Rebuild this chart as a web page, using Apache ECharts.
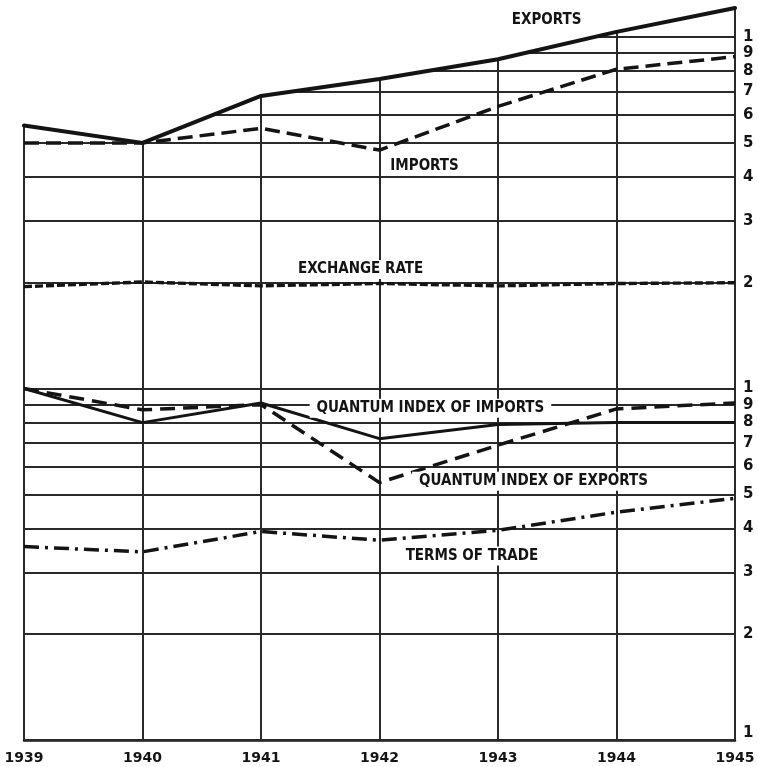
<!DOCTYPE html>
<html>
<head>
<meta charset="utf-8">
<script src="https://cdn.jsdelivr.net/npm/echarts@6/dist/echarts.min.js"></script>
<style>
  html, body { margin: 0; padding: 0; background: #fff; }
  #chart { width: 758px; height: 767px; }
</style>
</head>
<body>
<div id="chart"></div>
<script>
// Years along the bottom axis
const years = [1939, 1940, 1941, 1942, 1943, 1944, 1945];

// Series values (ratio scale, two log cycles 0.1 - 1 - 10)
const exportsVal   = [5.6, 5.0, 6.8, 7.6, 8.65, 10.35, 12.1];
const importsVal   = [5.0, 5.0, 5.5, 4.77, 6.35, 8.1, 8.8];
const exchangeRate = [1.95, 2.01, 1.96, 1.99, 1.96, 1.99, 2.0];
const quantumImp   = [1.0, 0.80, 0.91, 0.72, 0.79, 0.80, 0.80];
const quantumExp   = [1.0, 0.87, 0.90, 0.54, 0.69, 0.875, 0.91];
const termsOfTrade = [0.355, 0.343, 0.392, 0.37, 0.395, 0.445, 0.487];

// Ruled lines of the log grid and their right-hand digits
const gridValues = [0.1, 0.2, 0.3, 0.4, 0.5, 0.6, 0.7, 0.8, 0.9, 1,
                    2, 3, 4, 5, 6, 7, 8, 9, 10];
const gridDigit = v => String(v < 1 ? Math.round(v * 10) : (v >= 10 ? Math.round(v / 10) : v));

// Captions placed beside the curves: [text, year, value]
const captions = [
  ['EXPORTS', 1943.41, 11.15],
  ['IMPORTS', 1942.38, 4.29],
  ['EXCHANGE RATE', 1941.84, 2.18],
  ['QUANTUM INDEX OF IMPORTS', 1942.43, 0.879],
  ['QUANTUM INDEX OF EXPORTS', 1943.30, 0.545],
  ['TERMS OF TRADE', 1942.78, 0.334]
];

const INK = '#141414';
const RULE = '#2a2a2a';
const LETTER = "'DejaVu Sans Condensed', 'Liberation Sans Narrow', 'DejaVu Sans', sans-serif";
const BASE = 0.1;

const pairs = vals => years.map((y, i) => [y, vals[i]]);

// horizontal rules, each labelled with its digit at the right edge
const horizontalRules = gridValues.map(v => (v === BASE
  ? { yAxis: v, label: { offset: [0, -7] } }
  : { yAxis: v }));

// year rules run from the base line up to the exports curve
const yearRules = years.map((y, i) => [
  { coord: [y, BASE], label: { show: false } },
  { coord: [y, exportsVal[i]] }
]);

const chart = echarts.init(document.getElementById('chart'), null, { renderer: 'canvas' });

chart.setOption({
  animation: false,
  backgroundColor: '#ffffff',
  grid: { left: 24, right: 23, top: 8, bottom: 27 },
  xAxis: {
    type: 'value',
    min: 1939,
    max: 1945,
    interval: 1,
    axisLine: { show: true, onZero: false, lineStyle: { color: INK, width: 2.5 } },
    axisTick: { show: false },
    splitLine: { show: false },
    axisLabel: {
      margin: 11,
      color: INK,
      fontFamily: "'DejaVu Sans', sans-serif",
      fontWeight: 'bold',
      fontSize: 14,
      formatter: v => String(v)
    }
  },
  yAxis: {
    type: 'log',
    logBase: 10,
    min: BASE,
    max: 12.1,
    axisLine: { show: false },
    axisTick: { show: false },
    axisLabel: { show: false },
    splitLine: { show: false }
  },
  series: [
    {
      // grid rules
      type: 'line',
      data: [],
      z: 1,
      markLine: {
        z: 1,
        silent: true,
        symbol: ['none', 'none'],
        lineStyle: { color: RULE, width: 2, type: 'solid' },
        label: {
          show: true,
          position: 'end',
          distance: 8,
          color: INK,
          fontFamily: "'DejaVu Sans', sans-serif",
          fontWeight: 'bold',
          fontSize: 15,
          formatter: p => gridDigit(p.value)
        },
        data: horizontalRules.concat(yearRules)
      }
    },
    {
      // exports; the white fill above it blanks the rules over the curve
      name: 'Exports',
      type: 'line',
      z: 2,
      data: pairs(exportsVal),
      symbol: 'none',
      lineStyle: { color: INK, width: 4, cap: 'round', join: 'round' },
      areaStyle: { color: '#ffffff', opacity: 1, origin: 'end' }
    },
    {
      name: 'Imports',
      type: 'line',
      z: 3,
      data: pairs(importsVal),
      symbol: 'none',
      lineStyle: { color: INK, width: 3.5, type: [15, 7] }
    },
    {
      name: 'Exchange rate',
      type: 'line',
      z: 3,
      data: pairs(exchangeRate),
      symbol: 'none',
      lineStyle: { color: INK, width: 3.4, type: [8, 3] }
    },
    {
      name: 'Quantum index of imports',
      type: 'line',
      z: 3,
      data: pairs(quantumImp),
      symbol: 'none',
      lineStyle: { color: INK, width: 3, type: 'solid' }
    },
    {
      name: 'Quantum index of exports',
      type: 'line',
      z: 3,
      data: pairs(quantumExp),
      symbol: 'none',
      lineStyle: { color: INK, width: 3.5, type: [15, 8] }
    },
    {
      name: 'Terms of trade',
      type: 'line',
      z: 3,
      data: pairs(termsOfTrade),
      symbol: 'none',
      lineStyle: { color: INK, width: 3.5, type: [15, 6, 3, 6] }
    },
    {
      // captions
      type: 'line',
      data: [],
      z: 4,
      markPoint: {
        z: 4,
        silent: true,
        symbol: 'circle',
        symbolSize: 0,
        label: {
          show: true,
          position: 'inside',
          color: INK,
          fontFamily: LETTER,
          fontWeight: 'bold',
          fontSize: 15,
          backgroundColor: '#ffffff',
          padding: [2, 7],
          formatter: p => p.name
        },
        data: captions.map(c => ({ name: c[0], coord: [c[1], c[2]] }))
      }
    }
  ]
});
</script>
</body>
</html>
